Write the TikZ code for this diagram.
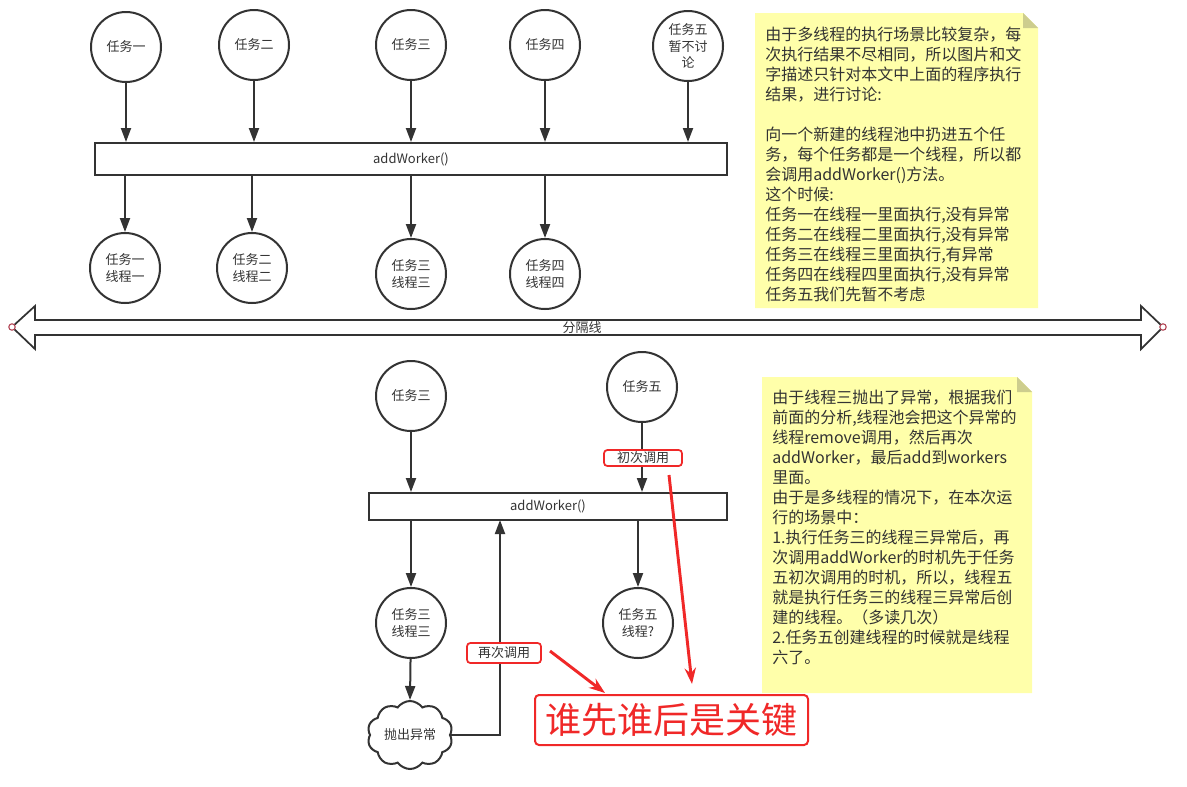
\documentclass[tikz,border=0pt]{standalone}
\usepackage{fontspec}
\setmainfont{Noto Sans CJK SC}
\usetikzlibrary{arrows.meta,shapes.symbols,calc}
\definecolor{ln}{HTML}{333333}
\definecolor{notefill}{HTML}{FFFFAA}
\definecolor{foldfill}{HTML}{CDCD8E}
\definecolor{rd}{HTML}{F02828}
\definecolor{tipred}{HTML}{B04050}
\begin{document}
\begin{tikzpicture}[x=0.75pt,y=-0.75pt,
  task/.style={circle,draw=ln,line width=1.5pt,fill=white,minimum size=52.5pt,inner sep=0pt,
    text=ln,align=center,font=\fontsize{9.75}{12.5}\selectfont},
  wbox/.style={draw=ln,line width=1.5pt,fill=white,inner sep=0pt,text=ln,
    font=\fontsize{9.75}{12}\selectfont},
  arr/.style={draw=ln,line width=1.5pt,-{Triangle[length=10.5pt,width=7.5pt]}},
  redarr/.style={draw=rd,line width=2.2pt,-{Stealth[length=12pt,width=8.5pt]}},
  tag/.style={draw=rd,line width=1.3pt,rounded corners=2.5pt,fill=white,inner sep=0pt,
    text=ln,font=\fontsize{9.75}{12}\selectfont},
  notetext/.style={anchor=north west,inner sep=0pt,align=left,text=ln,
    font=\fontsize{12}{15}\selectfont}
]
\useasboundingbox[fill=white] (0,0) rectangle (1187,786);

% ---------- top part ----------
\node[task] (t1) at (126,47) {任务一};
\node[task] (t2) at (254,45) {任务二};
\node[task] (t3) at (411,45) {任务三};
\node[task] (t4) at (545,45) {任务四};
\node[task] (t5) at (688,46) {任务五\\暂不讨\\论};

\node[wbox,minimum width=474pt,minimum height=24pt] (aw1) at (411,159) {addWorker()};

\foreach \n in {t1,t2,t3,t4,t5}{
  \draw[arr] (\n) -- (\n |- aw1.north);
}

\node[task] (r1) at (125,268) {任务一\\线程一};
\node[task] (r2) at (252,268) {任务二\\线程二};
\node[task] (r3) at (411,274) {任务三\\线程三};
\node[task] (r4) at (545,274) {任务四\\线程四};

\foreach \n in {r1,r2,r3,r4}{
  \draw[arr] (aw1.south -| \n) -- (\n);
}

% note 1
\fill[notefill] (755,13) -- (1023,13) -- (1038,28) -- (1038,308) -- (755,308) -- cycle;
\fill[foldfill] (1023,13) -- (1038,28) -- (1023,28) -- cycle;
\node[notetext] (n1) at (765,27) {由于多线程的执行场景比较复杂，每\\
次执行结果不尽相同，所以图片和文\\
字描述只针对本文中上面的程序执行\\
结果，进行讨论:\\[15pt]
向一个新建的线程池中扔进五个任\\
务，每个任务都是一个线程，所以都\\
会调用addWorker()方法。\\
这个时候:\\
任务一在线程一里面执行,没有异常\\
任务二在线程二里面执行,没有异常\\
任务三在线程三里面执行,有异常\\
任务四在线程四里面执行,没有异常\\
任务五我们先暂不考虑};

% ---------- separator ----------
\draw[ln,line width=1.3pt,line join=miter,fill=white]
  (12,327) -- (35,306) -- (35,320) -- (1141,320) -- (1141,306) -- (1163,327)
  -- (1141,349) -- (1141,335) -- (35,335) -- (35,349) -- cycle;
\node[text=ln,font=\fontsize{9.75}{12}\selectfont,inner sep=0pt] (sep) at (582,328) {分隔线};
\draw[tipred,line width=0.8pt,fill=white] (12,327) circle (3.2);
\draw[tipred,line width=0.8pt,fill=white] (1163,327) circle (3.2);

% ---------- bottom part ----------
\node[task] (b3) at (411,396) {任务三};
\node[task] (b5) at (642,387) {任务五};
\node[wbox,minimum width=268.5pt,minimum height=20.25pt] (aw2) at (548,506.5) {addWorker()};

\draw[arr] (b3) -- (b3 |- aw2.north);
\draw[arr] (b5) -- (b5 |- aw2.north);
\node[tag,minimum width=58.5pt,minimum height=12pt] (first) at (643,458) {初次调用};

\node[task] (bt3) at (411,623) {任务三\\线程三};
\node[task] (bt5) at (638,623) {任务五\\线程?};
\draw[arr] (aw2.south -| bt3) -- (bt3);
\draw[arr] (aw2.south -| bt5) -- (bt5);

\node[cloud,cloud puffs=10,cloud puff arc=110,aspect=1.25,draw=ln,line width=1.5pt,fill=white,
  minimum width=64pt,minimum height=51pt,inner sep=0pt,text=ln,
  font=\fontsize{9.75}{12}\selectfont] (cl) at (410,735) {抛出异常};
\draw[arr] (bt3) -- (cl.north);
\coordinate (up) at (500,520);
\draw[arr] (cl.east) -| (up);
\node[tag,minimum width=55.5pt,minimum height=15pt] (again) at (504,653) {再次调用};

% key label
\node[draw=rd,line width=1.5pt,rounded corners=3pt,fill=white,minimum width=204.75pt,
  minimum height=37.5pt,inner sep=0pt,text=rd,font=\fontsize{27}{30}\selectfont] (key) at (671.5,720) {谁先谁后是关键};

\coordinate (a1s) at (550,651);
\coordinate (a1e) at (605,693);
\coordinate (a2s) at (669,475);
\coordinate (a2e) at (692,684);
\draw[redarr] (a1s) -- (a1e);
\draw[redarr] (a2s) -- (a2e);

% note 2
\fill[notefill] (762,377) -- (1017,377) -- (1032,392) -- (1032,693) -- (762,693) -- cycle;
\fill[foldfill] (1017,377) -- (1032,392) -- (1017,392) -- cycle;
\node[notetext] (n2) at (772,390) {由于线程三抛出了异常，根据我们\\
前面的分析,线程池会把这个异常的\\
线程remove调用，然后再次\\
addWorker，最后add到workers\\
里面。\\
由于是多线程的情况下，在本次运\\
行的场景中：\\
1.执行任务三的线程三异常后，再\\
次调用addWorker的时机先于任务\\
五初次调用的时机，所以，线程五\\
就是执行任务三的线程三异常后创\\
建的线程。（多读几次）\\
2.任务五创建线程的时候就是线程\\
六了。};
\end{tikzpicture}
\end{document}
